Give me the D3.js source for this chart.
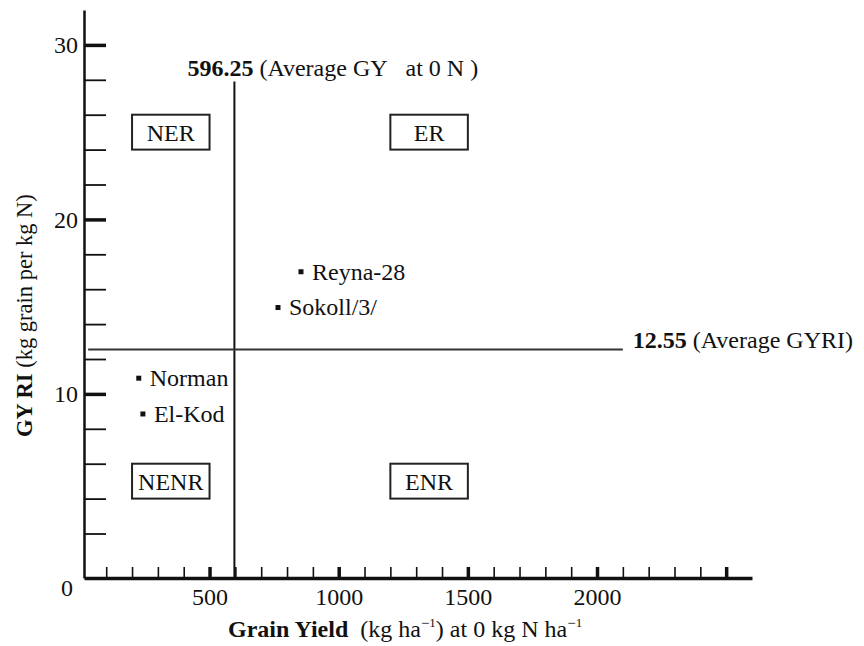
<!DOCTYPE html>
<html>
<head>
<meta charset="utf-8">
<script src="https://cdn.jsdelivr.net/npm/d3@7"></script>
<style>
  html, body { margin: 0; padding: 0; background: #fff; }
  svg text { font-family: "Liberation Serif", "Times New Roman", serif; fill: #111; }
</style>
</head>
<body>
<svg id="chart" width="864" height="646"></svg>
<script>
// ---- data ----
const genotypes = ["Reyna-28", "Sokoll/3/", "Norman", "El-Kod"];
const grainYield = [854, 765, 226, 242];          // kg ha-1 at 0 N
const gyri = [17.0, 14.95, 10.9, 8.85];           // kg grain per kg N

const meanGY = 596.25;
const meanGYRI = 12.55;

const quadrantNames = ["NER", "ER", "NENR", "ENR"];
const quadrantX0 = [200, 1200, 200, 1200];
const quadrantX1 = [500, 1500, 500, 1500];
const quadrantY0 = [24, 24, 4, 4];
const quadrantY1 = [26, 26, 6, 6];

const xMajorTicks = [500, 1000, 1500, 2000, 2500];
const xMajorLabels = ["500", "1000", "1500", "2000", ""];
const xMinorTicks = [100, 200, 300, 400, 600, 700, 800, 900, 1100, 1200, 1300, 1400,
                     1600, 1700, 1800, 1900, 2100, 2200, 2300, 2400];
const yMajorTicks = [10, 20, 30];
const yMinorTicks = [2, 4, 6, 8, 12, 14, 16, 18, 22, 24, 26, 28];

// ---- layout ----
const svg = d3.select("#chart");
const FS = 24;
const x = d3.scaleLinear().domain([14, 2600]).range([84, 752]);
const y = d3.scaleLinear().domain([-0.55, 32]).range([578, 10]);
const xAxisY = y(-0.55);
const yAxisX = x(14);

// X axis: minor ticks
const gxMinor = svg.append("g").attr("transform", `translate(0,${xAxisY})`)
  .call(d3.axisBottom(x).tickValues(xMinorTicks).tickSize(-11).tickSizeOuter(0).tickFormat(""));
gxMinor.select(".domain").attr("stroke", "#111").attr("stroke-width", 3.5);
gxMinor.selectAll(".tick line").attr("stroke", "#111").attr("stroke-width", 1.6);

// X axis: major ticks + labels
const gxMajor = svg.append("g").attr("transform", `translate(0,${xAxisY})`)
  .call(d3.axisBottom(x).tickValues(xMajorTicks).tickSize(-11).tickSizeOuter(0).tickPadding(10)
    .tickFormat((d, i) => xMajorLabels[i]));
gxMajor.select(".domain").remove();
gxMajor.selectAll(".tick line").attr("stroke", "#111").attr("stroke-width", 3.5);
gxMajor.selectAll(".tick text").attr("font-size", FS);

// Y axis: minor ticks
const gyMinor = svg.append("g").attr("transform", `translate(${yAxisX},0)`)
  .call(d3.axisLeft(y).tickValues(yMinorTicks).tickSize(-22).tickSizeOuter(0).tickFormat(""));
gyMinor.select(".domain").attr("stroke", "#111").attr("stroke-width", 2.5);
gyMinor.selectAll(".tick line").attr("stroke", "#111").attr("stroke-width", 1.8);

// Y axis: major ticks + labels
const gyMajor = svg.append("g").attr("transform", `translate(${yAxisX},0)`)
  .call(d3.axisLeft(y).tickValues(yMajorTicks).tickSize(-22).tickSizeOuter(0).tickPadding(6)
    .tickFormat(d3.format("d")));
gyMajor.select(".domain").remove();
gyMajor.selectAll(".tick line").attr("stroke", "#111").attr("stroke-width", 3.5);
gyMajor.selectAll(".tick text").attr("font-size", FS);

// origin label "0"
svg.append("text").attr("x", yAxisX - 11).attr("y", y(-1.1)).attr("dy", "0.33em")
  .attr("text-anchor", "end").attr("font-size", FS).text("0");

// ---- mean lines ----
const vTop = 27.9;
svg.append("line")
  .attr("x1", x(meanGY)).attr("x2", x(meanGY))
  .attr("y1", y(vTop)).attr("y2", xAxisY)
  .attr("stroke", "#111").attr("stroke-width", 2);
svg.append("line")
  .attr("x1", x(30)).attr("x2", x(2100))
  .attr("y1", y(meanGYRI)).attr("y2", y(meanGYRI))
  .attr("stroke", "#333").attr("stroke-width", 2);

const tGY = svg.append("text").attr("x", x(meanGY) - 47).attr("y", y(vTop) - 6).attr("font-size", FS);
tGY.append("tspan").attr("font-weight", "bold").text(d3.format(".2f")(meanGY));
tGY.append("tspan").text(" (Average GY\u00a0\u00a0 at 0 N\u00a0)");

const tGYRI = svg.append("text").attr("x", x(2100) + 10).attr("y", y(meanGYRI) - 1).attr("font-size", FS);
tGYRI.append("tspan").attr("font-weight", "bold").text(d3.format(".2f")(meanGYRI));
tGYRI.append("tspan").text(" (Average GYRI)");

// ---- quadrant boxes ----
const boxes = svg.append("g");
quadrantNames.forEach((name, i) => {
  boxes.append("rect")
    .attr("x", x(quadrantX0[i])).attr("y", y(quadrantY1[i]))
    .attr("width", x(quadrantX1[i]) - x(quadrantX0[i]))
    .attr("height", y(quadrantY0[i]) - y(quadrantY1[i]))
    .attr("fill", "none").attr("stroke", "#222").attr("stroke-width", 2);
  boxes.append("text")
    .attr("x", (x(quadrantX0[i]) + x(quadrantX1[i])) / 2)
    .attr("y", (y(quadrantY0[i]) + y(quadrantY1[i])) / 2)
    .attr("dy", "0.36em").attr("text-anchor", "middle").attr("font-size", FS)
    .text(name);
});

// ---- points ----
const pts = svg.append("g");
genotypes.forEach((g, i) => {
  pts.append("rect")
    .attr("x", x(grainYield[i]) - 2.5).attr("y", y(gyri[i]) - 2.5)
    .attr("width", 5).attr("height", 5).attr("fill", "#111");
  pts.append("text")
    .attr("x", x(grainYield[i]) + 11).attr("y", y(gyri[i]))
    .attr("dy", "0.33em").attr("font-size", FS).text(g);
});

// ---- axis titles ----
const xt = svg.append("text").attr("x", 228).attr("y", 637).attr("text-anchor", "start").attr("font-size", FS);
xt.append("tspan").attr("font-weight", "bold").text("Grain Yield");
xt.append("tspan").text("\u00a0 (kg ha");
xt.append("tspan").attr("font-size", 15).attr("dy", -9).text("\u2212");
xt.append("tspan").attr("font-size", 13).attr("dy", -1).text("1");
xt.append("tspan").attr("dy", 10).text(") at 0 kg N ha");
xt.append("tspan").attr("font-size", 15).attr("dy", -9).text("\u2212");
xt.append("tspan").attr("font-size", 13).attr("dy", -1).text("1");

const yt = svg.append("text").attr("transform", "translate(32,437) rotate(-90)")
  .attr("text-anchor", "start").attr("font-size", 22.5);
yt.append("tspan").attr("font-weight", "bold").text("GY RI");
yt.append("tspan").text(" (kg grain per kg N)");
</script>
</body>
</html>
